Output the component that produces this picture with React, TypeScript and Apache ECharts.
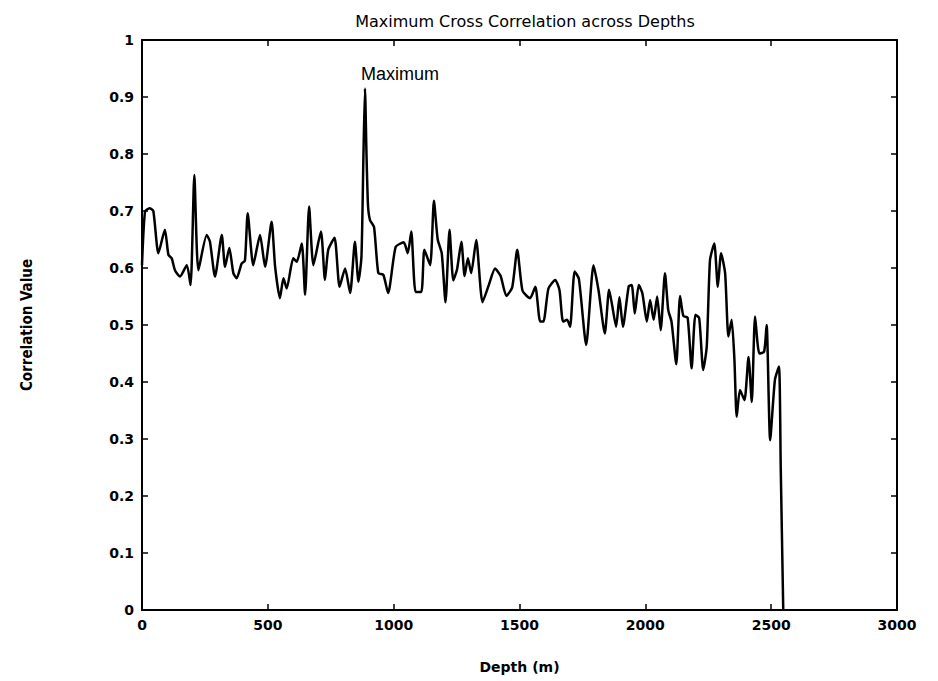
import React, { useEffect, useRef } from "react";
import * as echarts from "echarts";

const titleText = "Maximum Cross Correlation across Depths";
const xAxisName = "Depth (m)";
const yAxisName = "Correlation Value";
const peakLabel = "Maximum";

const depths = [
  0, 12, 30, 45, 65, 91, 105, 118, 131, 151, 178, 193, 208, 224, 257, 270, 290, 317, 330, 347,
  363, 376, 396, 409, 420, 442, 469, 489, 515, 529, 548, 562, 575, 601, 615, 635, 648, 664, 681, 711,
  727, 740, 765, 785, 807, 827, 846, 860, 872, 880, 886, 892, 898, 906, 922, 939, 959, 978, 1008, 1040,
  1056, 1070, 1087, 1110, 1122, 1145, 1160, 1175, 1191, 1206, 1222, 1237, 1252, 1269, 1282, 1295, 1308, 1328, 1353, 1378,
  1403, 1425, 1448, 1471, 1491, 1512, 1542, 1563, 1582, 1595, 1615, 1642, 1659, 1673, 1689, 1701, 1719, 1736, 1765, 1794,
  1814, 1839, 1856, 1868, 1884, 1897, 1911, 1934, 1946, 1958, 1974, 1988, 2006, 2019, 2033, 2047, 2061, 2078, 2091, 2104,
  2123, 2138, 2151, 2168, 2184, 2199, 2214, 2230, 2244, 2257, 2274, 2288, 2301, 2317, 2330, 2343, 2354, 2363, 2376, 2394,
  2410, 2423, 2436, 2453, 2472, 2482, 2496, 2515, 2531, 2538, 2548,
];

const correlations = [
  0.605, 0.699, 0.705, 0.7, 0.626, 0.667, 0.623, 0.617, 0.596, 0.585, 0.605, 0.57, 0.763, 0.596, 0.658, 0.646, 0.585, 0.658, 0.602, 0.635,
  0.591, 0.582, 0.608, 0.613, 0.696, 0.605, 0.658, 0.602, 0.681, 0.602, 0.547, 0.582, 0.564, 0.617, 0.611, 0.643, 0.553, 0.708, 0.605, 0.664,
  0.579, 0.632, 0.653, 0.567, 0.599, 0.556, 0.646, 0.576, 0.62, 0.8, 0.915, 0.8, 0.71, 0.684, 0.672, 0.591, 0.588, 0.556, 0.637, 0.645,
  0.626, 0.664, 0.558, 0.558, 0.632, 0.605, 0.718, 0.65, 0.626, 0.54, 0.667, 0.578, 0.598, 0.646, 0.586, 0.617, 0.591, 0.649, 0.54, 0.57,
  0.599, 0.586, 0.551, 0.566, 0.632, 0.56, 0.547, 0.567, 0.506, 0.506, 0.564, 0.579, 0.561, 0.506, 0.509, 0.497, 0.594, 0.581, 0.465, 0.605,
  0.561, 0.485, 0.562, 0.535, 0.497, 0.549, 0.497, 0.568, 0.57, 0.52, 0.57, 0.556, 0.506, 0.544, 0.509, 0.55, 0.491, 0.591, 0.526, 0.506,
  0.431, 0.551, 0.516, 0.513, 0.424, 0.518, 0.512, 0.421, 0.462, 0.614, 0.643, 0.567, 0.626, 0.591, 0.48, 0.509, 0.439, 0.339, 0.386, 0.368,
  0.444, 0.365, 0.515, 0.45, 0.453, 0.5, 0.298, 0.404, 0.427, 0.25, 0,
];

const peakDepth = 870;
const peakLabelValue = 0.94;

const xTicks = [0, 500, 1000, 1500, 2000, 2500, 3000];
const yTicks = [0, 0.1, 0.2, 0.3, 0.4, 0.5, 0.6, 0.7, 0.8, 0.9, 1];

export default function App() {
  const ref = useRef<HTMLDivElement>(null);
  useEffect(() => {
    if (!ref.current) return;
    const chart = echarts.init(ref.current, undefined, { renderer: "svg" });
    const data = depths.map((d, i) => [d, correlations[i]]);
    const tickFont = { color: "#000", fontFamily: "DejaVu Sans", fontWeight: "bold" as const, fontSize: 14 };
    const mkLine = () => ({ show: true, onZero: false, lineStyle: { color: "#000", width: 2 } });
    const mkTick = () => ({ show: true, inside: true, length: 6, lineStyle: { color: "#000", width: 1.5 } });
    chart.setOption({
      animation: false,
      backgroundColor: "#fff",
      title: {
        text: titleText,
        left: 520,
        top: 8,
        textAlign: "center",
        textStyle: { color: "#000", fontFamily: "DejaVu Sans", fontWeight: "normal", fontSize: 16 },
      },
      grid: { left: 142, right: 41, top: 40, bottom: 71, containLabel: false },
      xAxis: [
        {
          type: "value",
          min: xTicks[0],
          max: xTicks[xTicks.length - 1],
          interval: 500,
          name: xAxisName,
          nameLocation: "middle",
          nameGap: 50,
          nameTextStyle: { ...tickFont, fontSize: 14 },
          axisLine: mkLine(),
          axisTick: mkTick(),
          axisLabel: { ...tickFont, margin: 8, formatter: (v: number) => String(v) },
          splitLine: { show: false },
        },
        {
          type: "value",
          position: "top",
          min: xTicks[0],
          max: xTicks[xTicks.length - 1],
          interval: 500,
          axisLine: mkLine(),
          axisTick: mkTick(),
          axisLabel: { show: false },
          splitLine: { show: false },
        },
      ],
      yAxis: [
        {
          type: "value",
          min: yTicks[0],
          max: yTicks[yTicks.length - 1],
          interval: 0.1,
          name: yAxisName,
          nameLocation: "middle",
          nameRotate: 90,
          nameGap: 108,
          nameTextStyle: {
            color: "#000",
            fontFamily: "'Liberation Sans Narrow', 'DejaVu Sans Condensed', 'DejaVu Sans'",
            fontWeight: "bold",
            fontSize: 15,
          },
          axisLine: mkLine(),
          axisTick: mkTick(),
          axisLabel: { ...tickFont, margin: 8, formatter: (v: number) => String(Math.round(v * 10) / 10) },
          splitLine: { show: false },
        },
        {
          type: "value",
          position: "right",
          min: yTicks[0],
          max: yTicks[yTicks.length - 1],
          interval: 0.1,
          axisLine: mkLine(),
          axisTick: mkTick(),
          axisLabel: { show: false },
          splitLine: { show: false },
        },
      ],
      series: [
        {
          type: "line",
          data,
          xAxisIndex: 0,
          yAxisIndex: 0,
          showSymbol: false,
          smooth: 0.2,
          lineStyle: { color: "#000", width: 2.5 },
          markPoint: {
            symbol: "circle",
            symbolSize: 0,
            data: [{ coord: [peakDepth, peakLabelValue], value: peakLabel }],
            label: {
              show: true,
              position: "inside",
              align: "left",
              verticalAlign: "middle",
              formatter: peakLabel,
              color: "#000",
              fontFamily: "'Liberation Sans', Arial, sans-serif",
              fontSize: 18,
            },
          },
        },
      ],
    });
    return () => chart.dispose();
  }, []);
  return <div ref={ref} style={{ position: "fixed", left: 0, top: 0, width: 938, height: 681, background: "#fff" }} />;
}
